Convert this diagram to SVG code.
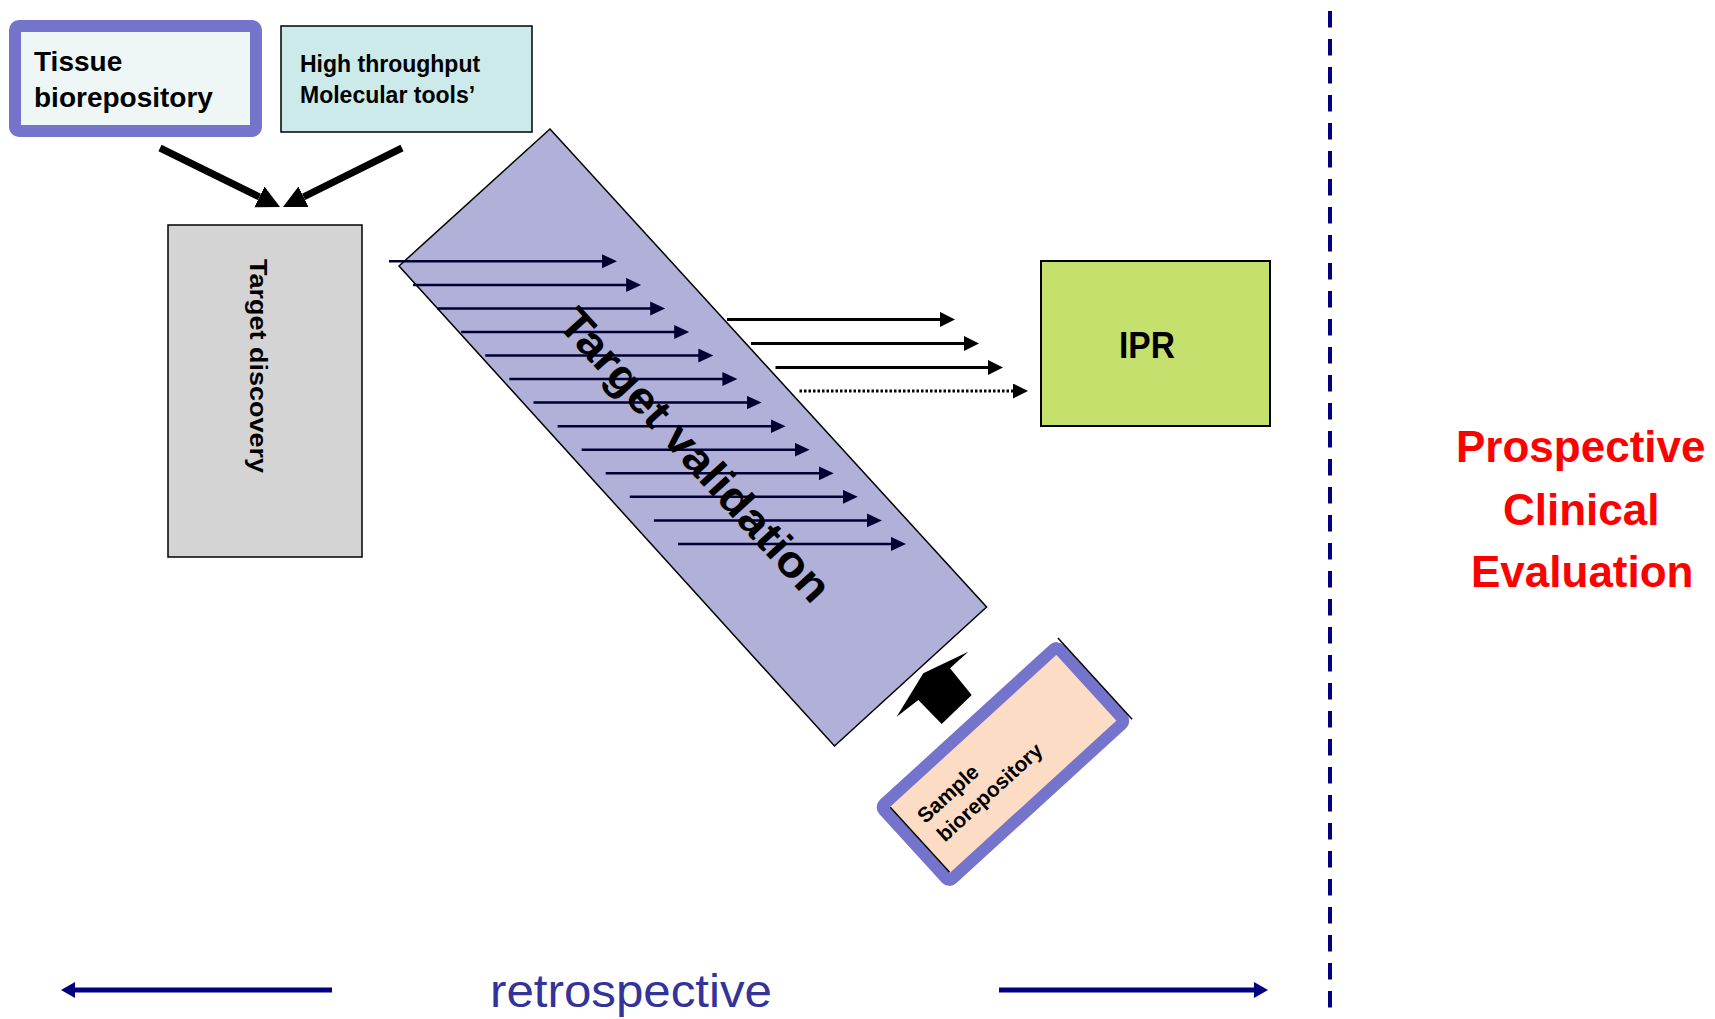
<svg xmlns="http://www.w3.org/2000/svg" width="1715" height="1019" viewBox="0 0 1715 1019">
<defs>
<style>
.b{font-family:"Liberation Sans",Arial,sans-serif;font-weight:bold;fill:#000}
.thin{stroke:#000033;stroke-width:2.5;fill:none}
.ipr{stroke:#000;stroke-width:3;fill:none}
</style>
<marker id="mThick" markerUnits="userSpaceOnUse" markerWidth="24" markerHeight="24" refX="0" refY="11.5" orient="auto" viewBox="0 0 24 24"><path d="M0,0 L23,11.5 L0,23 z" fill="#000"/></marker>
<marker id="mThin" markerUnits="userSpaceOnUse" markerWidth="16" markerHeight="15" refX="1" refY="7" orient="auto" viewBox="0 0 16 15"><path d="M0,0 L15,7 L0,14 z" fill="#000033"/></marker>
<marker id="mIpr" markerUnits="userSpaceOnUse" markerWidth="16" markerHeight="16" refX="1" refY="7.5" orient="auto" viewBox="0 0 16 16"><path d="M0,0 L15,7.5 L0,15 z" fill="#000"/></marker>
<marker id="mNavy" markerUnits="userSpaceOnUse" markerWidth="15" markerHeight="17" refX="1" refY="8" orient="auto" viewBox="0 0 15 17"><path d="M0,0 L14,8 L0,16 z" fill="#000080"/></marker>
</defs>
<rect width="1715" height="1019" fill="#fff"/>

<g id="tissue">
<rect x="15" y="26" width="241" height="105" rx="4" fill="#eef7f6" stroke="#7474cc" stroke-width="12"/>
<text class="b" font-size="28" x="34" y="71">Tissue</text>
<text class="b" font-size="28" x="34" y="107">biorepository</text>
</g>

<g id="highthroughput">
<rect x="281" y="26" width="251" height="106" fill="#cceaea" stroke="#000" stroke-width="1.5"/>
<text class="b" font-size="23" x="300" y="72">High throughput</text>
<text class="b" font-size="23" x="300" y="103">Molecular tools’</text>
</g>

<g id="discovery">
<rect x="168" y="225" width="194" height="332" fill="#d4d4d4" stroke="#000" stroke-width="1.5"/>
<text class="b" font-size="23" transform="translate(250,259) rotate(90)" textLength="214" lengthAdjust="spacingAndGlyphs">Target discovery</text>
</g>

<g id="validation">
<polygon points="550,129 986.6,607 834.5,746 399,266" fill="#b0b0d8" stroke="#000" stroke-width="1.5"/>
</g>

<g id="ipr">
<rect x="1041" y="261" width="229" height="165" fill="#c5e06d" stroke="#000" stroke-width="2"/>
<text class="b" font-size="36" x="1147" y="358" text-anchor="middle" textLength="56" lengthAdjust="spacingAndGlyphs">IPR</text>
</g>

<g id="sample" transform="translate(1003,764) rotate(-42.4)">
<rect x="-119" y="-50.5" width="238" height="101" rx="4" fill="#fddcc5" stroke="#7474cc" stroke-width="12"/>
<line x1="125.5" y1="-56" x2="125.5" y2="54" stroke="#000" stroke-width="1.5"/>
<line x1="-112.5" y1="-44" x2="-112.5" y2="44" stroke="#000" stroke-width="1.5"/>
<text class="b" font-size="21" x="-98" y="-8">Sample</text>
<text class="b" font-size="21" x="-96" y="19">biorepository</text>
</g>

<g id="connectors">
<line x1="160" y1="148" x2="259.4" y2="196.9" stroke="#000" stroke-width="7" marker-end="url(#mThick)"/>
<line x1="402" y1="148" x2="303.6" y2="196.8" stroke="#000" stroke-width="7" marker-end="url(#mThick)"/>
<g class="thin" marker-end="url(#mThin)">
<line x1="389" y1="261.3" x2="603" y2="261.3"/>
<line x1="413.1" y1="284.9" x2="627.1" y2="284.9"/>
<line x1="437.2" y1="308.4" x2="651.2" y2="308.4"/>
<line x1="461.2" y1="332" x2="675.2" y2="332"/>
<line x1="485.3" y1="355.5" x2="699.3" y2="355.5"/>
<line x1="509.4" y1="379.1" x2="723.4" y2="379.1"/>
<line x1="533.5" y1="402.6" x2="747.5" y2="402.6"/>
<line x1="557.6" y1="426.2" x2="771.6" y2="426.2"/>
<line x1="581.6" y1="449.7" x2="795.6" y2="449.7"/>
<line x1="605.7" y1="473.3" x2="819.7" y2="473.3"/>
<line x1="629.8" y1="496.8" x2="843.8" y2="496.8"/>
<line x1="653.9" y1="520.4" x2="867.9" y2="520.4"/>
<line x1="678" y1="543.9" x2="892" y2="543.9"/>
</g>
<g class="ipr" marker-end="url(#mIpr)">
<line x1="727" y1="319.4" x2="941" y2="319.4"/>
<line x1="751" y1="343.6" x2="965" y2="343.6"/>
<line x1="775.5" y1="367.5" x2="989" y2="367.5"/>
<line x1="799.5" y1="391" x2="1014" y2="391" stroke-dasharray="2.5 2"/>
</g>
<polygon points="896.7,716.7 923.3,673.3 968.3,651.7 950,668.3 971.7,695 941.7,724 918.3,700" fill="#000"/>
<line x1="332" y1="990" x2="74" y2="990" stroke="#000080" stroke-width="5" marker-end="url(#mNavy)"/>
<line x1="999" y1="990" x2="1255" y2="990" stroke="#000080" stroke-width="5" marker-end="url(#mNavy)"/>
</g>

<text class="b" font-size="44" transform="translate(684,465) rotate(47.6)" text-anchor="middle" textLength="380" lengthAdjust="spacingAndGlyphs">Target validation</text>

<line x1="1330" y1="11" x2="1330" y2="1019" stroke="#000080" stroke-width="4" stroke-dasharray="16.5 11.5"/>

<g font-family="Liberation Sans, Arial, sans-serif" font-weight="bold" font-size="44" fill="#ff0000">
<text x="1456" y="462">Prospective</text>
<text x="1503" y="525">Clinical</text>
<text x="1471" y="587">Evaluation</text>
</g>

<text x="490" y="1007" font-family="Liberation Sans, Arial, sans-serif" font-size="46" fill="#333399" textLength="282" lengthAdjust="spacingAndGlyphs">retrospective</text>
</svg>
